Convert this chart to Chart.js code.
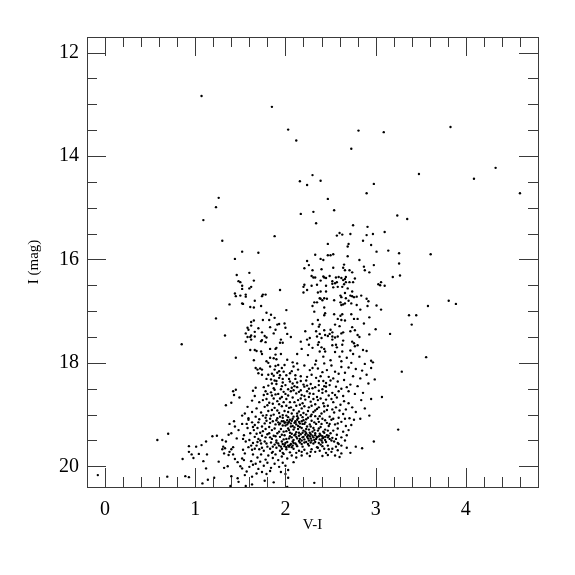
<!DOCTYPE html>
<html>
<head>
<meta charset="utf-8">
<title>V-I colour magnitude diagram</title>
<script src="https://cdn.jsdelivr.net/npm/chart.js@4"></script>
<style>
  html, body { margin: 0; padding: 0; background: #fff; }
  #wrap { width: 575px; height: 575px; }
</style>
</head>
<body>
<div id="wrap"><canvas id="cmd" width="575" height="575"></canvas></div>
<script>
// stars as [V-I, I]
const brightStars = [[1.07,12.84],[1.85,13.05],[2.03,13.49],[2.12,13.70],[2.16,14.49],[1.26,14.81],[1.23,14.99],[1.09,15.24],[1.30,15.64],[1.88,15.55],[1.52,15.85],[1.70,15.87],[1.44,15.99],
  [2.81,13.51],[3.09,13.54],[3.83,13.44],[2.73,13.86],[3.48,14.35],[4.33,14.23],[4.09,14.44],[2.30,14.37],[2.24,14.56],[2.39,14.48],[2.98,14.54],[2.90,14.72],[4.60,14.72],[2.47,14.83],[2.54,15.05],[2.31,15.08],[2.17,15.12],[3.24,15.15],[3.35,15.22],[2.34,15.30],[2.75,15.34],[2.91,15.37],[3.10,15.47],[2.60,15.49],[2.57,15.54],[2.63,15.52],[2.72,15.51],[2.90,15.53],[2.97,15.51],[2.86,15.64],[2.70,15.70],[2.47,15.70],[2.69,15.75],[2.95,15.72],[3.01,15.85],[3.14,15.83],[3.26,15.88],[3.61,15.90],[2.33,15.91],[2.39,15.99],[2.42,16.01],[2.47,15.92],[2.50,15.92],[2.53,15.90],[2.69,15.94],[2.82,16.01],[3.26,16.08],[2.24,16.03]];

const blueBranch = [[1.46,16.30],[1.60,16.26],[1.65,16.41],[1.48,16.42],[1.50,16.44],[1.52,16.51],[1.52,16.57],[1.62,16.53],[1.60,16.56],[1.44,16.66],[1.45,16.71],[1.50,16.70],[1.56,16.68],[1.56,16.72],[1.75,16.68],[1.78,16.68],[1.74,16.71],[1.94,16.59],[1.38,16.87],[1.52,16.85],[1.53,16.86],[1.66,16.80],[1.61,16.92],[1.65,16.93],[1.73,16.90],[1.79,17.03],[1.84,17.07],[1.88,17.13],[2.01,16.98],[1.23,17.14],[1.62,17.21],[1.65,17.18],[1.75,17.17],[1.82,17.17],[1.62,17.28],[1.58,17.32],[1.59,17.36],[1.70,17.33],[1.83,17.31],[1.91,17.26],[1.93,17.25],[1.99,17.24],[2.00,17.32],[1.89,17.36],[1.87,17.43],[1.74,17.41],[1.66,17.40],[1.56,17.43],[1.33,17.47],[1.62,17.47],[1.58,17.50],[1.61,17.50],[1.66,17.49],[1.77,17.48],[1.79,17.51],[2.02,17.44],[2.06,17.50],[1.56,17.59],[1.62,17.55],[1.73,17.58],[1.74,17.56],[1.78,17.60],[1.95,17.55],[1.94,17.61],[1.97,17.61],[1.61,17.75],[1.66,17.75],[1.68,17.77],[1.73,17.78],[1.83,17.73],[1.89,17.73],[1.90,17.71],[1.95,17.83],[1.74,17.83],[2.13,17.83],[1.45,17.90],[1.65,17.95],[0.85,17.64]];

const redClump = [[2.26,16.11],[2.21,16.17],[2.30,16.21],[2.29,16.32],[2.31,16.35],[2.33,16.35],[2.35,16.49],[2.29,16.51],[2.21,16.49],[2.20,16.53],[2.24,16.59],[2.20,16.64],[2.36,16.64],[2.38,16.75],[2.32,16.83],[2.35,16.83],[2.30,16.90],[2.32,17.01],[2.40,16.19],[2.53,16.16],[2.65,16.10],[2.64,16.16],[2.66,16.21],[2.71,16.21],[2.74,16.25],[2.87,16.14],[2.88,16.21],[2.93,16.25],[2.98,16.11],[3.27,16.31],[3.19,16.34],[2.42,16.33],[2.43,16.35],[2.45,16.36],[2.49,16.32],[2.56,16.35],[2.59,16.34],[2.62,16.36],[2.67,16.34],[2.64,16.40],[2.66,16.38],[2.77,16.37],[2.39,16.41],[2.52,16.42],[2.57,16.44],[2.52,16.47],[2.55,16.46],[2.67,16.44],[2.65,16.48],[2.71,16.44],[2.75,16.44],[2.45,16.51],[2.63,16.53],[2.53,16.54],[2.58,16.53],[2.69,16.56],[3.03,16.48],[3.06,16.44],[3.05,16.50],[3.10,16.51],[2.39,16.62],[2.45,16.62],[2.74,16.62],[2.66,16.65],[2.61,16.70],[2.72,16.70],[2.74,16.71],[2.76,16.73],[2.79,16.72],[2.84,16.70],[2.39,16.76],[2.43,16.75],[2.46,16.76],[2.62,16.73],[2.67,16.75],[2.90,16.76],[2.41,16.79],[2.54,16.79],[2.61,16.83],[2.64,16.87],[2.66,16.85],[2.70,16.80],[2.73,16.85],[2.79,16.88],[2.92,16.81],[2.91,16.90],[3.01,16.89],[3.06,16.97],[3.58,16.90],[2.43,16.93],[2.62,16.88],[2.83,16.97],[2.43,17.08],[2.44,17.04],[2.54,17.06],[2.63,17.06],[2.61,17.09],[2.73,17.06],[2.93,17.12],[2.76,17.15],[2.80,17.15],[2.87,17.24],[2.58,17.15],[2.62,17.17],[2.66,17.18],[2.36,17.17],[2.38,17.26],[2.37,17.30],[2.30,17.25],[2.55,17.26],[2.60,17.29],[2.74,17.31],[2.72,17.39],[2.77,17.37],[2.80,17.46],[2.82,17.50],[2.93,17.45],[3.00,17.35],[3.16,17.44],[3.37,17.08],[3.45,17.08],[3.40,17.26],[3.81,16.80],[3.89,16.86],[2.22,17.39],[2.34,17.39],[2.43,17.37],[2.50,17.36],[2.52,17.41],[2.64,17.41],[2.62,17.43],[2.44,17.46],[2.47,17.48],[2.49,17.44],[2.52,17.49],[2.55,17.51],[2.58,17.49],[2.64,17.57],[2.52,17.55],[2.40,17.52],[2.35,17.49],[2.38,17.44],[2.27,17.52],[2.24,17.55],[2.26,17.65],[2.17,17.59],[2.18,17.73],[2.30,17.71],[2.37,17.60],[2.36,17.65],[2.74,17.59],[2.76,17.62],[2.77,17.68],[2.80,17.66],[2.63,17.65],[2.56,17.65],[2.52,17.66],[2.40,17.70],[2.43,17.73],[2.57,17.70],[2.38,17.78],[2.44,17.78],[2.55,17.79],[2.63,17.78],[2.72,17.76],[2.86,17.75],[2.90,17.77],[2.75,17.83],[2.25,17.85],[2.42,17.88],[2.60,17.88],[2.68,17.90],[2.82,17.88],[2.95,17.96],[2.97,17.99],[2.95,18.10],[3.29,18.17],[2.99,18.32],[3.07,18.66],[3.25,19.29],[2.98,19.52],[3.56,17.89],[2.88,18.02],[2.73,18.00],[2.62,17.97],[2.50,17.95],[2.34,17.96],[2.85,18.15],[2.78,18.12],[2.70,18.09],[2.90,18.23],[2.83,18.30],[2.75,18.26],[2.62,18.08],[2.92,18.40],[2.80,18.45],[2.86,18.58],[2.72,18.42],[2.95,18.70],[2.84,18.72],[2.77,18.60],[2.70,18.55],[2.88,18.88],[2.78,18.95],[2.93,19.02],[2.83,19.08],[2.70,18.78]];

const lowerGiants = [[1.67,18.10],[1.69,18.13],[1.72,18.11],[1.74,18.13],[1.70,18.20],[1.74,18.23],[1.79,17.97],[1.81,18.00],[1.83,17.90],[1.89,17.84],[1.87,17.91],[1.90,17.93],[1.83,18.07],[1.89,18.06],[1.92,18.04],[1.81,18.23],[1.85,18.21],[1.87,18.25],[1.91,18.19],[1.93,18.16],[1.96,18.10],[1.98,18.17],[2.02,17.94],[2.08,17.99],[2.09,18.07],[2.13,18.01],[1.79,18.31],[1.88,18.34],[1.93,18.29],[2.01,18.24],[2.04,18.31],[2.07,18.16],[2.14,18.13],[2.17,18.26],[2.21,18.05],[2.27,18.14],[2.33,18.03],[2.36,18.11],[2.43,18.01],[2.46,18.14],[2.51,18.05],[2.55,18.17],[2.59,18.21],[2.66,18.19],[2.29,18.23],[2.34,18.29],[2.41,18.18],[2.48,18.27],[2.53,18.30],[2.58,18.36],[2.65,18.33],[2.23,18.34],[2.28,18.41],[2.37,18.35],[2.39,18.26],[2.45,18.39],[2.49,18.43],[2.56,18.46],[2.62,18.50],[2.68,18.47],[2.11,18.31],[2.13,18.38],[2.20,18.42],[2.05,18.36],[1.97,18.38],[1.85,18.40],[1.76,18.47],[1.81,18.44],[1.87,18.49],[1.90,18.41],[1.95,18.51],[2.00,18.43],[2.07,18.48],[2.10,18.45],[2.17,18.53],[2.21,18.46],[2.26,18.50],[2.33,18.47],[2.41,18.51],[2.45,18.46],[2.52,18.58],[2.59,18.55],[2.64,18.64],[1.42,18.55],[1.45,18.52],[1.43,18.62],[1.49,18.67],[1.34,18.82],[1.40,18.77],[1.64,18.54],[1.67,18.48],[1.66,18.64],[1.63,18.73],[1.76,18.62],[1.78,18.55],[1.84,18.57],[1.88,18.52],[1.92,18.60],[1.98,18.56],[2.03,18.63],[2.09,18.53],[2.12,18.59],[2.18,18.62],[2.24,18.55],[2.31,18.60],[2.35,18.66],[2.41,18.58],[2.48,18.63],[2.51,18.70],[2.57,18.67],[2.65,18.74],[1.71,18.76],[1.75,18.72],[1.79,18.70],[1.82,18.77],[1.87,18.69],[1.91,18.74],[1.96,18.66],[2.01,18.70],[2.05,18.76],[2.08,18.67],[2.14,18.72],[2.19,18.78],[2.22,18.71],[2.28,18.75],[2.33,18.80],[2.36,18.72],[2.42,18.78],[2.47,18.83],[2.53,18.76],[2.56,18.86],[2.61,18.81],[2.67,18.90]];

const coreStars = [[1.58,18.85],[1.55,18.98],[1.52,19.02],[1.59,19.07],[1.63,18.95],[1.68,18.88],[1.73,18.96],[1.77,18.85],[1.81,18.93],[1.84,19.02],[1.88,18.87],[1.93,18.97],[1.96,18.84],[1.99,18.93],[2.04,18.87],[2.07,18.98],[2.12,18.83],[2.15,18.94],[2.18,18.88],[2.23,19.00],[2.26,18.86],[2.31,18.95],[2.35,18.89],[2.38,19.03],[2.43,18.94],[2.49,19.04],[2.54,18.96],[2.59,19.06],[2.64,18.99],[2.71,19.07],[1.67,19.04],[1.71,19.09],[1.75,19.02],[1.79,19.12],[1.83,19.08],[1.87,19.00],[1.90,19.11],[1.94,19.04],[1.98,19.13],[2.01,19.02],[2.05,19.10],[2.09,19.04],[2.11,19.13],[2.14,19.07],[2.17,19.01],[2.20,19.11],[2.25,19.06],[2.29,19.12],[2.33,19.03],[2.37,19.14],[2.41,19.08],[2.46,19.16],[2.51,19.10],[2.55,19.19],[2.62,19.14],[2.67,19.22],[1.43,19.13],[1.38,19.18],[1.44,19.23],[1.52,19.18],[1.48,19.30],[1.40,19.36],[1.37,19.39],[1.59,19.10],[1.63,19.15],[1.58,19.26],[1.61,19.36],[1.66,19.20],[1.70,19.15],[1.74,19.23],[1.77,19.17],[1.82,19.24],[1.86,19.13],[1.89,19.19],[1.92,19.15],[1.94,19.17],[1.97,19.21],[1.99,19.16],[2.00,19.15],[2.02,19.19],[2.04,19.14],[2.06,19.17],[2.08,19.22],[2.10,19.16],[2.12,19.19],[2.15,19.14],[2.16,19.24],[2.19,19.18],[2.22,19.15],[2.24,19.23],[2.27,19.19],[2.31,19.26],[2.34,19.18],[2.39,19.24],[2.44,19.29],[2.48,19.22],[2.53,19.31],[2.58,19.27],[2.64,19.33],[2.70,19.30],[1.46,19.46],[1.53,19.47],[1.54,19.40],[1.65,19.30],[1.69,19.26],[1.72,19.35],[1.78,19.28],[1.80,19.38],[1.85,19.30],[1.88,19.27],[1.91,19.36],[1.95,19.28],[1.98,19.33],[2.03,19.27],[2.05,19.35],[2.09,19.29],[2.12,19.34],[2.14,19.28],[2.17,19.38],[2.20,19.31],[2.23,19.36],[2.26,19.29],[2.28,19.38],[2.30,19.33],[2.33,19.40],[2.36,19.31],[2.38,19.37],[2.41,19.42],[2.43,19.35],[2.46,19.40],[2.50,19.36],[2.52,19.45],[2.57,19.39],[2.62,19.44],[1.66,19.43],[1.70,19.47],[1.74,19.41],[1.77,19.52],[1.83,19.44],[1.87,19.41],[1.90,19.50],[1.94,19.43],[1.99,19.40],[2.01,19.47],[2.05,19.42],[2.08,19.52],[2.10,19.40],[2.13,19.46],[2.15,19.41],[2.18,19.50],[2.20,19.43],[2.22,19.39],[2.25,19.46],[2.27,19.42],[2.29,19.50],[2.31,19.44],[2.34,19.47],[2.37,19.42],[2.40,19.50],[2.42,19.45],[2.45,19.53],[2.49,19.47],[2.54,19.52],[2.59,19.57],[2.66,19.50],[1.60,19.49],[1.64,19.55],[1.68,19.60],[1.73,19.56],[1.80,19.62],[1.84,19.54],[1.88,19.58],[1.92,19.56],[1.95,19.62],[1.97,19.57],[1.99,19.61],[2.00,19.55],[2.03,19.60],[2.06,19.57],[2.07,19.63],[2.11,19.56],[2.13,19.61],[2.16,19.54],[2.19,19.62],[2.23,19.53],[2.26,19.60],[2.31,19.56],[2.35,19.63],[2.39,19.58],[2.43,19.66],[2.47,19.60],[2.52,19.66],[2.56,19.62],[1.59,19.63],[1.63,19.68],[1.71,19.67],[1.76,19.70],[1.83,19.66],[1.86,19.72],[1.90,19.64],[1.94,19.70],[2.01,19.67],[2.05,19.73],[2.09,19.66],[2.15,19.70],[2.21,19.68],[2.24,19.75],[2.29,19.67],[2.33,19.72],[2.38,19.70],[2.45,19.74],[2.51,19.72],[2.58,19.69],[2.62,19.75],[2.55,19.79],[2.68,19.64],[2.78,19.62],[2.85,19.65]];

// the thick middle of the cluster, where single stars run together
const denseStars = [[2.02,19.11],[2.03,19.16],[2.07,19.12],[2.11,19.15],[2.13,19.10],[2.16,19.17],[2.18,19.13],[2.21,19.18],[2.00,19.21],[1.96,19.13],[1.93,19.19],[2.06,19.23],[2.10,19.25],[2.14,19.22],[2.18,19.26],[2.23,19.28],[2.28,19.23],[2.32,19.30],[2.37,19.27],[2.42,19.33],[2.47,19.31],[2.01,19.32],[2.04,19.30],[2.07,19.37],[2.11,19.38],[2.15,19.35],[2.19,19.35],[2.22,19.33],[2.25,19.40],[2.27,19.35],[2.30,19.41],[2.33,19.36],[2.35,19.43],[2.39,19.40],[2.44,19.43],[2.48,19.41],[2.04,19.46],[2.07,19.44],[2.09,19.49],[2.12,19.43],[2.16,19.47],[2.19,19.44],[2.21,19.48],[2.24,19.43],[2.26,19.50],[2.28,19.46],[2.32,19.49],[2.35,19.44],[2.38,19.48],[2.41,19.46],[2.44,19.49],[2.47,19.44],[2.51,19.50],[2.56,19.47],[1.96,19.52],[1.99,19.58],[2.02,19.53],[2.05,19.59],[2.09,19.55],[2.12,19.58],[2.15,19.51],[2.18,19.57],[2.21,19.54],[2.25,19.57],[2.28,19.54],[2.33,19.53],[2.37,19.55],[2.41,19.54],[2.01,19.63],[2.04,19.62],[2.08,19.60],[1.93,19.60],[1.96,19.66],[1.90,19.54],[1.86,19.62],[1.78,19.44],[1.72,19.50],[1.82,19.36],[1.85,19.47],[1.93,19.33],[1.96,19.39],[1.89,19.42],[1.98,19.48],[1.75,19.32],[1.68,19.37],[1.64,19.24],[1.83,19.16],[1.78,19.06],[1.91,19.07],[1.97,19.06],[2.03,19.05],[2.08,19.08],[2.13,19.03],[2.19,19.05],[2.23,19.09],[2.28,19.03],[2.32,19.15],[2.36,19.08],[2.40,19.18],[2.44,19.11],[2.49,19.18],[2.53,19.08],[2.58,19.17],[2.03,18.95],[2.09,18.91],[2.13,18.98],[2.20,18.97],[2.25,18.93],[2.29,19.00],[2.33,18.92],[2.40,18.98],[2.46,18.91],[1.97,19.01],[1.91,18.92],[1.85,18.91],[1.79,19.01],[2.01,18.83],[2.06,18.86],[2.16,18.81],[2.21,18.84],[2.29,18.83],[2.37,18.86],[2.43,18.84],[2.52,18.90],[1.93,18.80],[1.86,18.79],[1.80,18.82],[1.98,18.76],[2.10,18.76],[2.17,18.69],[2.26,18.66],[2.31,18.70],[2.39,18.69],[2.45,18.71],[1.94,18.69],[1.85,18.63],[1.80,18.60],[1.89,18.61],[2.00,18.60],[2.06,18.55],[2.15,18.56],[2.21,18.64],[2.27,18.59],[2.37,18.54],[2.45,18.55],[2.55,18.62],[1.96,18.45],[2.03,18.51],[2.13,18.47],[2.24,18.44],[2.30,18.49],[2.37,18.43],[2.43,18.45],[1.90,18.35],[1.97,18.31],[2.08,18.40],[2.17,18.35],[2.42,18.35],[2.50,18.34],[1.84,18.32],[1.94,18.24],[2.05,18.20],[2.11,18.24],[2.24,18.27],[1.88,18.13],[1.99,18.04],[2.30,18.10],[1.57,19.18],[1.56,19.52],[1.62,19.60],[1.66,19.66],[1.74,19.64],[1.79,19.56],[1.69,19.53],[1.85,19.74],[1.97,19.74],[2.12,19.74],[2.18,19.72],[2.28,19.72],[2.36,19.64],[2.41,19.61],[2.48,19.67],[2.58,19.55],[2.62,19.60],[2.68,19.40],[2.73,19.20],[2.66,19.08],[2.76,19.10],[2.60,18.92],[2.74,18.86]];

const faintStars = [[0.58,19.49],[0.70,19.37],[-0.08,20.17],[0.69,20.20],[0.89,20.19],[0.93,20.21],[0.93,19.61],[1.01,19.62],[0.93,19.72],[0.96,19.77],[0.98,19.84],[0.86,19.86],[1.04,19.76],[1.08,20.33],[1.14,20.26],[1.21,20.22],[1.39,20.38],[1.40,20.19],[1.47,20.23],[1.48,20.30],[1.56,20.38],[1.63,20.35],[1.77,20.28],[1.87,20.31],[1.12,20.04],[1.09,19.90],[1.07,19.59],[1.12,19.52],[1.19,19.42],[1.24,19.41],[1.30,19.49],[1.34,19.52],[1.13,19.77],[1.26,19.91],[1.31,19.62],[1.30,19.67],[1.33,19.65],[1.32,19.75],[1.38,19.72],[1.40,19.67],[1.42,19.63],[1.37,19.78],[1.42,19.77],[1.32,20.03],[1.36,20.00],[1.47,19.92],[1.44,19.86],[1.52,19.85],[1.54,19.88],[1.50,20.00],[1.52,20.04],[1.57,20.10],[1.55,20.17],[1.60,20.01],[1.64,19.97],[1.63,20.20],[1.53,19.68],[1.55,19.75],[1.64,19.77],[1.69,19.83],[1.73,19.77],[1.78,19.87],[1.81,19.79],[1.86,19.84],[1.89,19.77],[1.92,19.88],[1.96,19.81],[1.98,19.76],[2.02,19.85],[2.07,19.79],[2.12,19.83],[2.18,19.79],[2.27,19.80],[2.41,19.80],[2.47,19.78],[2.60,19.82],[2.72,19.74],[1.62,19.90],[1.67,19.95],[1.72,19.91],[1.76,19.99],[1.80,19.93],[1.84,20.03],[1.88,19.95],[1.93,20.01],[1.97,19.93],[2.00,19.99],[2.03,20.07],[2.09,19.92],[1.70,20.05],[1.74,20.11],[1.79,20.15],[1.83,20.09],[1.68,20.14],[1.95,20.11],[2.00,20.15],[2.03,20.22],[2.32,20.32],[2.02,20.40]];

const xTicks = [0, 1, 2, 3, 4];
const yTicks = [12, 14, 16, 18, 20];
const xMinor = [0.2, 0.4, 0.6, 0.8, 1.2, 1.4, 1.6, 1.8, 2.2, 2.4, 2.6, 2.8, 3.2, 3.4, 3.6, 3.8, 4.2, 4.4, 4.6];
const yMinor = [12.5, 13, 13.5, 14.5, 15, 15.5, 16.5, 17, 17.5, 18.5, 19, 19.5];

const stars = [...brightStars, ...blueBranch, ...redClump, ...lowerGiants, ...coreStars, ...denseStars, ...faintStars]
  .map(([vi, mag]) => ({ x: vi, y: mag }));

const serif = "'Liberation Serif', serif";
const lineColor = "#3a3a3a";

// inward tick marks on all four sides
const inwardTicks = {
  id: "inwardTicks",
  afterDatasetsDraw(chart) {
    const { ctx, chartArea: a, scales: { x, y } } = chart;
    ctx.save();
    ctx.strokeStyle = lineColor;
    ctx.lineWidth = 1;
    const tickX = (v, len) => {
      const p = Math.round(x.getPixelForValue(v)) + 0.5;
      ctx.beginPath();
      ctx.moveTo(p, a.top); ctx.lineTo(p, a.top + len);
      ctx.moveTo(p, a.bottom); ctx.lineTo(p, a.bottom - len);
      ctx.stroke();
    };
    const tickY = (v, len) => {
      const p = Math.round(y.getPixelForValue(v)) + 0.5;
      ctx.beginPath();
      ctx.moveTo(a.left, p); ctx.lineTo(a.left + len, p);
      ctx.moveTo(a.right, p); ctx.lineTo(a.right - len, p);
      ctx.stroke();
    };
    xTicks.forEach(v => tickX(v, 19));
    xMinor.forEach(v => tickX(v, 10));
    yTicks.forEach(v => tickY(v, 19));
    yMinor.forEach(v => tickY(v, 10));
    ctx.strokeRect(a.left + 0.5, a.top + 0.5, a.width, a.height);
    ctx.restore();
  }
};

new Chart(document.getElementById("cmd"), {
  type: "scatter",
  data: {
    datasets: [{
      data: stars,
      pointRadius: 1.2,
      pointHoverRadius: 1.2,
      pointBorderWidth: 0,
      pointBackgroundColor: "#000"
    }]
  },
  plugins: [inwardTicks],
  options: {
    responsive: false,
    animation: false,
    layout: { padding: { top: 37, right: 37, left: 0, bottom: 0 } },
    plugins: { legend: { display: false }, tooltip: { enabled: false } },
    scales: {
      x: {
        type: "linear",
        min: -0.2,
        max: 4.8,
        grid: { display: false },
        border: { display: false },
        afterBuildTicks: axis => { axis.ticks = xTicks.map(v => ({ value: v })); },
        afterFit: axis => { axis.height = 88; },
        ticks: {
          padding: 3,
          maxRotation: 0,
          color: "#000",
          font: { family: serif, size: 20 },
          callback: v => String(v)
        },
        title: { display: true, text: "V-I", color: "#000", font: { family: serif, size: 15 }, padding: { top: 0, bottom: 41 } }
      },
      y: {
        type: "linear",
        reverse: true,
        min: 11.7,
        max: 20.4,
        grid: { display: false },
        border: { display: false },
        afterBuildTicks: axis => { axis.ticks = yTicks.map(v => ({ value: v })); },
        afterFit: axis => { axis.width = 87; },
        ticks: {
          padding: 0,
          color: "#000",
          font: { family: serif, size: 20 },
          callback: v => String(v)
        },
        title: { display: true, text: "I (mag)", color: "#000", font: { family: serif, size: 15 }, padding: { top: 25, bottom: 0 } }
      }
    }
  }
});
</script>
</body>
</html>
